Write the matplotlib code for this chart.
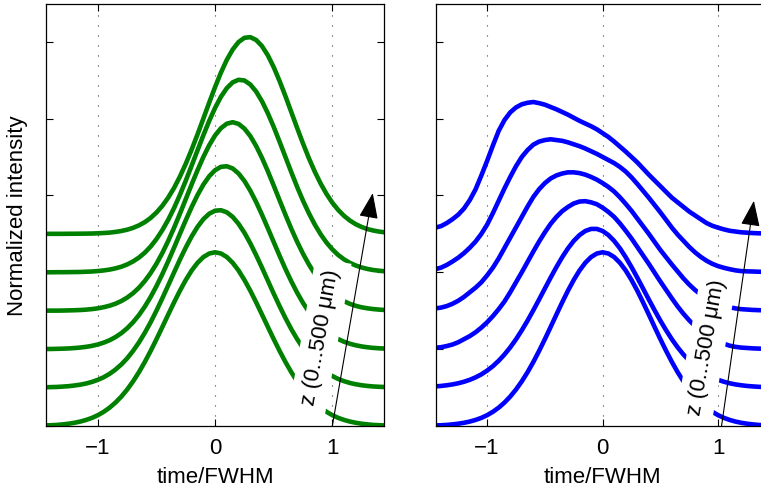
import matplotlib.pyplot as plt

plt.rcParams['font.family'] = ['Liberation Sans', 'DejaVu Sans']

# time axis (in units of the input FWHM)
t = [-1.45, -1.40, -1.35, -1.30, -1.25, -1.20, -1.15, -1.10, -1.05, -1.00,
     -0.95, -0.90, -0.85, -0.80, -0.75, -0.70, -0.65, -0.60, -0.55, -0.50,
     -0.45, -0.40, -0.35, -0.30, -0.25, -0.20, -0.15, -0.10, -0.05, 0.00,
     0.05, 0.10, 0.15, 0.20, 0.25, 0.30, 0.35, 0.40, 0.45, 0.50,
     0.55, 0.60, 0.65, 0.70, 0.75, 0.80, 0.85, 0.90, 0.95, 1.00,
     1.05, 1.10, 1.15, 1.20, 1.25, 1.30, 1.35, 1.40, 1.45]

# vertical offset of each trace (z = 0 ... 500 um)
offsets = [0.0, 0.5, 1.0, 1.5, 2.0, 2.5]

# left panel: pulses, bottom (z=0) to top
g0 = [0.007, 0.010, 0.014, 0.021, 0.030, 0.042, 0.058, 0.079, 0.106, 0.141,
      0.185, 0.239, 0.305, 0.383, 0.475, 0.581, 0.700, 0.833, 0.977, 1.130,
      1.289, 1.450, 1.609, 1.761, 1.900, 2.023, 2.123, 2.198, 2.244, 2.260,
      2.244, 2.198, 2.123, 2.023, 1.900, 1.761, 1.609, 1.450, 1.289, 1.130,
      0.977, 0.833, 0.700, 0.581, 0.475, 0.383, 0.305, 0.239, 0.185, 0.141,
      0.106, 0.079, 0.058, 0.042, 0.030, 0.021, 0.014, 0.010, 0.007]
g1 = [0.004, 0.006, 0.008, 0.013, 0.018, 0.027, 0.038, 0.053, 0.074, 0.101,
      0.135, 0.179, 0.234, 0.301, 0.381, 0.477, 0.587, 0.712, 0.850, 1.002,
      1.163, 1.330, 1.499, 1.666, 1.823, 1.967, 2.091, 2.191, 2.262, 2.301,
      2.307, 2.280, 2.220, 2.130, 2.014, 1.877, 1.723, 1.560, 1.391, 1.222,
      1.059, 0.904, 0.760, 0.630, 0.514, 0.414, 0.329, 0.257, 0.198, 0.150,
      0.112, 0.083, 0.060, 0.043, 0.030, 0.021, 0.014, 0.010, 0.007]
g2 = [0.002, 0.002, 0.004, 0.006, 0.009, 0.014, 0.021, 0.030, 0.043, 0.061,
      0.085, 0.116, 0.157, 0.208, 0.272, 0.350, 0.443, 0.553, 0.679, 0.821,
      0.977, 1.145, 1.321, 1.501, 1.679, 1.849, 2.005, 2.141, 2.250, 2.328,
      2.372, 2.379, 2.350, 2.285, 2.188, 2.062, 1.914, 1.748, 1.573, 1.393,
      1.215, 1.043, 0.882, 0.734, 0.601, 0.485, 0.385, 0.301, 0.232, 0.176,
      0.131, 0.096, 0.070, 0.050, 0.035, 0.024, 0.016, 0.011, 0.007]
g3 = [0.001, 0.001, 0.001, 0.002, 0.004, 0.006, 0.009, 0.014, 0.021, 0.031,
      0.046, 0.065, 0.091, 0.126, 0.171, 0.228, 0.299, 0.386, 0.490, 0.612,
      0.752, 0.909, 1.080, 1.263, 1.453, 1.644, 1.828, 2.001, 2.154, 2.281,
      2.375, 2.433, 2.452, 2.430, 2.369, 2.272, 2.143, 1.988, 1.814, 1.628,
      1.437, 1.248, 1.066, 0.896, 0.741, 0.602, 0.481, 0.378, 0.293, 0.223,
      0.167, 0.123, 0.089, 0.063, 0.044, 0.031, 0.021, 0.014, 0.009]
g4 = [0.000, 0.000, 0.001, 0.001, 0.002, 0.003, 0.004, 0.007, 0.010, 0.016,
      0.024, 0.035, 0.051, 0.072, 0.102, 0.141, 0.191, 0.255, 0.335, 0.433,
      0.549, 0.684, 0.837, 1.008, 1.193, 1.388, 1.587, 1.784, 1.971, 2.140,
      2.284, 2.396, 2.471, 2.504, 2.495, 2.443, 2.351, 2.224, 2.068, 1.891,
      1.698, 1.500, 1.302, 1.110, 0.931, 0.768, 0.622, 0.495, 0.387, 0.298,
      0.225, 0.168, 0.122, 0.088, 0.062, 0.043, 0.029, 0.020, 0.013]
g5 = [0.000, 0.000, 0.000, 0.000, 0.001, 0.001, 0.002, 0.003, 0.004, 0.007,
      0.011, 0.016, 0.025, 0.037, 0.054, 0.078, 0.110, 0.152, 0.207, 0.278,
      0.365, 0.472, 0.598, 0.746, 0.913, 1.097, 1.295, 1.501, 1.709, 1.911,
      2.099, 2.264, 2.398, 2.495, 2.550, 2.559, 2.522, 2.442, 2.322, 2.168,
      1.988, 1.791, 1.584, 1.377, 1.175, 0.984, 0.810, 0.655, 0.520, 0.405,
      0.311, 0.234, 0.173, 0.125, 0.089, 0.062, 0.043, 0.029, 0.019]

# right panel
b0 = [0.007, 0.010, 0.014, 0.021, 0.030, 0.042, 0.058, 0.079, 0.106, 0.141,
      0.185, 0.239, 0.305, 0.383, 0.475, 0.581, 0.700, 0.833, 0.977, 1.130,
      1.289, 1.450, 1.609, 1.761, 1.900, 2.023, 2.123, 2.198, 2.244, 2.260,
      2.244, 2.198, 2.123, 2.023, 1.900, 1.761, 1.609, 1.450, 1.289, 1.130,
      0.977, 0.833, 0.700, 0.581, 0.475, 0.383, 0.305, 0.239, 0.185, 0.141,
      0.106, 0.079, 0.058, 0.042, 0.030, 0.021, 0.014, 0.010, 0.007]
b1 = [0.015, 0.021, 0.030, 0.041, 0.056, 0.076, 0.101, 0.133, 0.172, 0.221,
      0.279, 0.349, 0.430, 0.523, 0.628, 0.745, 0.871, 1.006, 1.146, 1.289,
      1.431, 1.568, 1.696, 1.811, 1.908, 1.984, 2.037, 2.064, 2.064, 2.037,
      1.984, 1.908, 1.811, 1.696, 1.568, 1.431, 1.289, 1.146, 1.006, 0.871,
      0.745, 0.628, 0.523, 0.430, 0.349, 0.279, 0.221, 0.172, 0.133, 0.101,
      0.076, 0.056, 0.041, 0.030, 0.021, 0.015, 0.010, 0.007, 0.005]
b2 = [0.017, 0.025, 0.040, 0.060, 0.090, 0.130, 0.170, 0.220, 0.280, 0.350,
      0.430, 0.520, 0.620, 0.740, 0.870, 1.000, 1.135, 1.270, 1.400, 1.520,
      1.630, 1.720, 1.795, 1.850, 1.895, 1.920, 1.925, 1.910, 1.885, 1.840,
      1.785, 1.720, 1.635, 1.540, 1.440, 1.330, 1.220, 1.110, 0.995, 0.880,
      0.770, 0.660, 0.555, 0.460, 0.375, 0.300, 0.235, 0.180, 0.135, 0.100,
      0.070, 0.045, 0.030, 0.020, 0.015, 0.010, 0.007, 0.005, 0.003]
b3 = [0.030, 0.040, 0.060, 0.090, 0.130, 0.180, 0.240, 0.300, 0.370, 0.460,
      0.560, 0.680, 0.815, 0.950, 1.085, 1.220, 1.355, 1.480, 1.580, 1.660,
      1.720, 1.760, 1.785, 1.800, 1.800, 1.790, 1.770, 1.740, 1.705, 1.660,
      1.610, 1.550, 1.475, 1.390, 1.300, 1.200, 1.100, 1.000, 0.895, 0.790,
      0.695, 0.600, 0.510, 0.420, 0.340, 0.270, 0.210, 0.160, 0.120, 0.090,
      0.065, 0.045, 0.030, 0.020, 0.015, 0.010, 0.007, 0.005, 0.003]
b4 = [0.040, 0.060, 0.095, 0.140, 0.190, 0.250, 0.320, 0.400, 0.500, 0.620,
      0.770, 0.930, 1.090, 1.240, 1.380, 1.500, 1.590, 1.660, 1.700, 1.720,
      1.730, 1.720, 1.710, 1.690, 1.665, 1.640, 1.610, 1.575, 1.540, 1.500,
      1.460, 1.420, 1.370, 1.310, 1.235, 1.150, 1.060, 0.970, 0.875, 0.780,
      0.680, 0.580, 0.490, 0.410, 0.330, 0.260, 0.200, 0.150, 0.110, 0.080,
      0.058, 0.040, 0.025, 0.015, 0.012, 0.010, 0.007, 0.005, 0.003]
b5 = [0.080, 0.100, 0.140, 0.190, 0.250, 0.330, 0.440, 0.580, 0.760, 0.950,
      1.150, 1.340, 1.480, 1.580, 1.645, 1.685, 1.705, 1.715, 1.700, 1.680,
      1.650, 1.620, 1.585, 1.550, 1.510, 1.470, 1.435, 1.400, 1.360, 1.310,
      1.260, 1.200, 1.135, 1.070, 1.000, 0.930, 0.850, 0.770, 0.695, 0.620,
      0.545, 0.470, 0.410, 0.350, 0.290, 0.240, 0.190, 0.140, 0.105, 0.080,
      0.058, 0.040, 0.030, 0.020, 0.015, 0.010, 0.007, 0.005, 0.003]

label = 'z (0...500 μm)'

fig = plt.figure(figsize=(7.61, 4.89), dpi=100)
W, H = 761, 489
ax1 = fig.add_axes([46 / W, 62 / H, 338 / W, 422 / H])
ax2 = fig.add_axes([436 / W, 62 / H, 333 / W, 422 / H])

panels = [
    (ax1, [g0, g1, g2, g3, g4, g5], '#008000', (0.897, 1.17), (1.0, 0.0), (1.345, 3.03)),
    (ax2, [b0, b1, b2, b3, b4, b5], '#0000ff', (0.90, 1.03), (1.03, 0.0), (1.31, 2.93)),
]

for ax, pulses, color, txt_pos, tail, tip in panels:
    for off, p in zip(offsets, pulses):
        ax.plot(t, [off + v for v in p], color=color, lw=3.3, zorder=2,
                solid_capstyle='butt', solid_joinstyle='round')

    ax.set_xlim(-1.443, 1.441)
    ax.set_ylim(0, 5.49)
    ax.set_xticks([-1, 0, 1])
    ax.set_yticks([0, 1, 2, 3, 4, 5])
    ax.set_yticklabels([])
    ax.tick_params(direction='in', length=5, width=0.8, top=True, right=True,
                   labelsize=16, pad=8)
    ax.set_axisbelow(True)
    ax.grid(axis='x', color='0.25', lw=0.8, linestyle=(0, (1, 8)))
    for s in ax.spines.values():
        s.set_linewidth(0.9)
    ax.set_xlabel('time/FWHM', fontsize=16, labelpad=6)

    ax.text(txt_pos[0], txt_pos[1], label, rotation=80, ha='center', va='center',
            fontsize=16, zorder=3,
            bbox=dict(boxstyle='square,pad=0.35', fc='white', ec='none'))
    ax.annotate('', xy=tip, xytext=tail, zorder=4,
                arrowprops=dict(arrowstyle='-|>,head_length=0.8,head_width=0.3',
                                color='k', lw=0.8, mutation_scale=20,
                                shrinkA=0, shrinkB=0))

ax1.set_ylabel('Normalized intensity', fontsize=16, labelpad=5)

fig.savefig('out.png', dpi=100)
